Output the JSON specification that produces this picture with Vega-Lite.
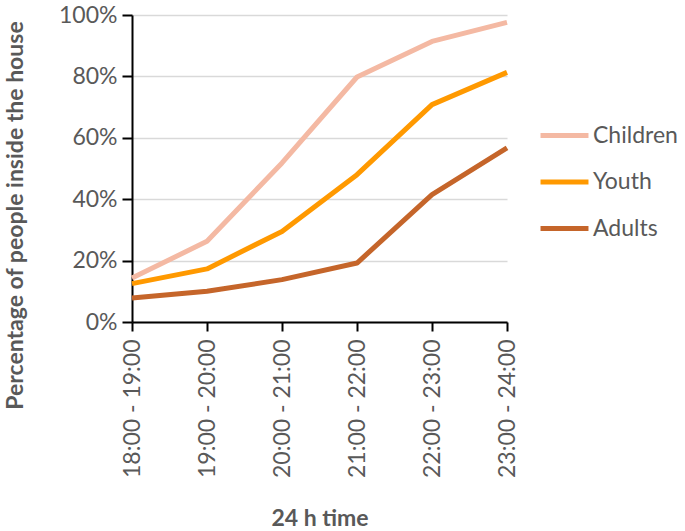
{
  "$schema": "https://vega.github.io/schema/vega-lite/v6.json",
  "width": 375,
  "height": 307,
  "autosize": {"type": "none"},
  "padding": {"left": 132, "top": 15, "right": 178, "bottom": 209},
  "background": "white",
  "config": {
    "view": {"stroke": null},
    "font": "Lato",
    "axis": {"labelFont": "Lato", "titleFont": "Lato", "labelColor": "#595959", "titleColor": "#595959"}
  },
  "data": {
    "values": [
      {"time": "18:00 - 19:00", "group": "Children", "value": 0.143},
      {"time": "19:00 - 20:00", "group": "Children", "value": 0.263},
      {"time": "20:00 - 21:00", "group": "Children", "value": 0.518},
      {"time": "21:00 - 22:00", "group": "Children", "value": 0.798},
      {"time": "22:00 - 23:00", "group": "Children", "value": 0.914},
      {"time": "23:00 - 24:00", "group": "Children", "value": 0.976},
      {"time": "18:00 - 19:00", "group": "Youth", "value": 0.125},
      {"time": "19:00 - 20:00", "group": "Youth", "value": 0.173},
      {"time": "20:00 - 21:00", "group": "Youth", "value": 0.295},
      {"time": "21:00 - 22:00", "group": "Youth", "value": 0.48},
      {"time": "22:00 - 23:00", "group": "Youth", "value": 0.708},
      {"time": "23:00 - 24:00", "group": "Youth", "value": 0.813},
      {"time": "18:00 - 19:00", "group": "Adults", "value": 0.078},
      {"time": "19:00 - 20:00", "group": "Adults", "value": 0.1},
      {"time": "20:00 - 21:00", "group": "Adults", "value": 0.138},
      {"time": "21:00 - 22:00", "group": "Adults", "value": 0.192},
      {"time": "22:00 - 23:00", "group": "Adults", "value": 0.415},
      {"time": "23:00 - 24:00", "group": "Adults", "value": 0.567}
    ]
  },
  "mark": {"type": "line", "strokeWidth": 5, "strokeCap": "butt", "strokeJoin": "round"},
  "encoding": {
    "x": {
      "field": "time", "type": "ordinal",
      "scale": {"type": "point", "padding": 0},
      "axis": {
        "title": "24 h time", "titleFontSize": 23, "titleFontWeight": "bold",
        "titleY": 196, "titleBaseline": "middle",
        "labelAngle": -90, "labelFontSize": 23, "labelPadding": 8,
        "domainColor": "black", "domainWidth": 2, "tickColor": "black", "tickWidth": 2, "tickSize": 9,
        "grid": false
      }
    },
    "y": {
      "field": "value", "type": "quantitative",
      "scale": {"domain": [0, 1]},
      "axis": {
        "title": "Percentage of people inside the house", "titleFontSize": 23, "titleFontWeight": "bold",
        "titleX": -117, "titleY": 200, "titleAlign": "center", "titleBaseline": "middle", "titleAngle": -90,
        "format": ".0%", "values": [0, 0.2, 0.4, 0.6, 0.8, 1],
        "labelFontSize": 23, "labelPadding": 5,
        "domainColor": "black", "domainWidth": 2, "tickColor": "black", "tickWidth": 2, "tickSize": 10,
        "gridColor": "#D9D9D9", "gridWidth": 1.5
      }
    },
    "color": {
      "field": "group", "type": "nominal",
      "scale": {"domain": ["Children", "Youth", "Adults"], "range": ["#F4B9A3", "#FF9900", "#C5652A"]},
      "legend": {
        "title": null, "orient": "none", "legendX": 406, "legendY": 94,
        "symbolType": "stroke", "symbolSize": 2300, "symbolStrokeWidth": 5,
        "labelFontSize": 23, "labelColor": "#595959", "labelFont": "Lato", "labelOffset": 2,
        "rowPadding": 7.5
      }
    }
  }
}
